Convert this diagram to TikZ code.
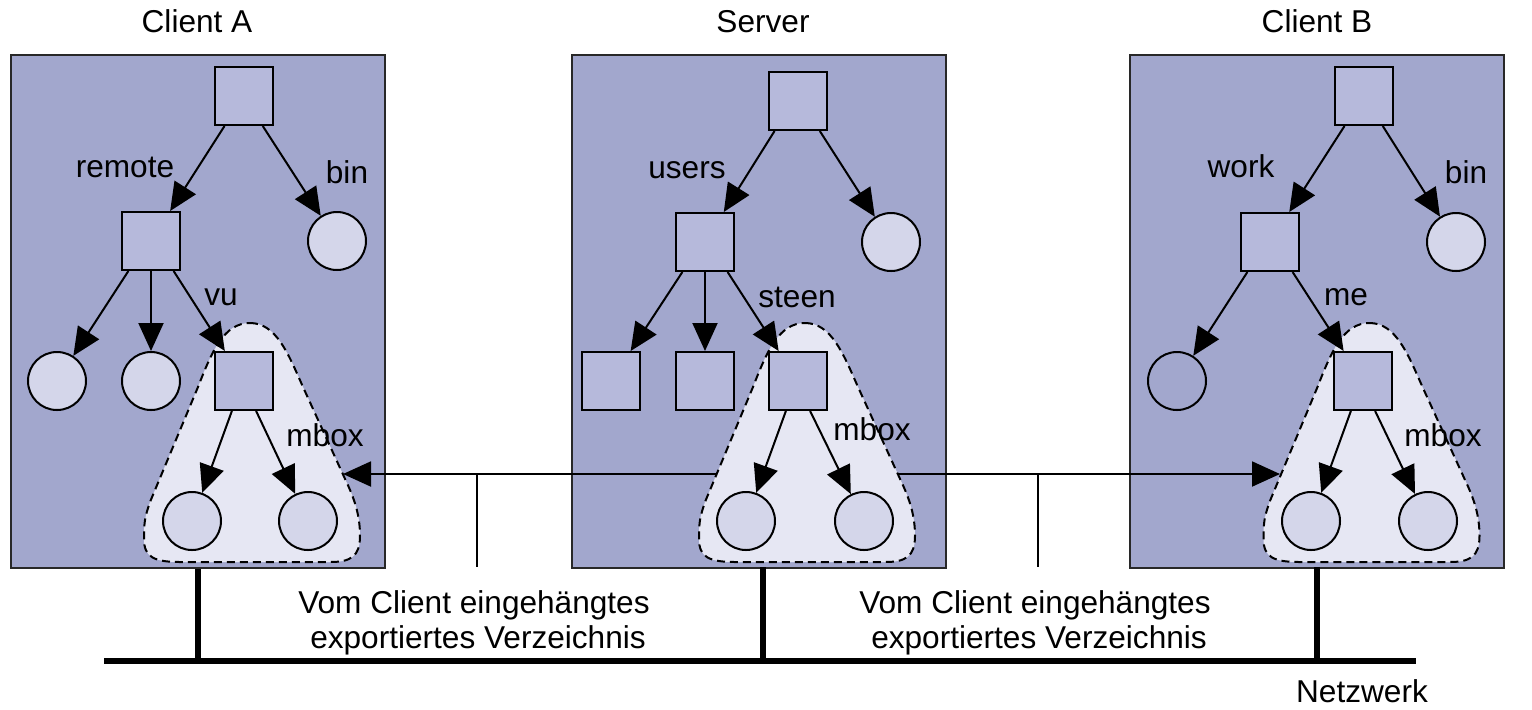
\documentclass[tikz,border=0pt]{standalone}
\usepackage{fontspec}
\setmainfont{Liberation Sans}
\usetikzlibrary{arrows.meta,calc}
\definecolor{panelc}{RGB}{162,167,205}
\definecolor{sqc}{RGB}{182,185,219}
\definecolor{cic}{RGB}{212,214,234}
\definecolor{blobc}{RGB}{230,231,243}
\definecolor{borderc}{RGB}{40,40,40}
\newcommand{\myblob}[2]{%
  \path[blob,shift={(#1,#2)}] (0,-58) .. controls (26,-58) and (38,-28) .. (53,6)
    -- (96,100) .. controls (105,119) and (110,135) .. (110,155)
    .. controls (110,176) and (100,181) .. (80,181)
    -- (-70,181) .. controls (-96,181) and (-106,176) .. (-106,158)
    .. controls (-106,140) and (-105,136) .. (-100,121)
    -- (-52,6) .. controls (-38,-30) and (-26,-58) .. (0,-58) -- cycle;}
\begin{document}
\begin{tikzpicture}[x=0.5pt,y=-0.5pt,
  font=\fontsize{15.8pt}{19pt}\selectfont,
  panel/.style={rectangle,draw=borderc,line width=1pt,fill=panelc,minimum width=187pt,minimum height=256.5pt,inner sep=0pt,anchor=north west},
  sq/.style={rectangle,draw=black,line width=1pt,fill=sqc,minimum size=29pt,inner sep=0pt},
  ci/.style={circle,draw=black,line width=1pt,fill=cic,minimum size=29pt,inner sep=0pt},
  cp/.style={circle,draw=black,line width=1pt,fill=panelc,minimum size=29pt,inner sep=0pt},
  blob/.style={draw=black,line width=1pt,dash pattern=on 4pt off 2.5pt,fill=blobc},
  arr/.style={line width=1pt,-{Triangle[length=14pt,width=12.5pt]}},
  thinl/.style={line width=0.8pt},
  net/.style={line width=3pt},
  lbl/.style={anchor=base,inner sep=0pt},
]
\useasboundingbox (0,0) rectangle (1532,709);
% panels
\node[panel] (pA) at (10,54) {};
\node[panel] (pS) at (571,54) {};
\node[panel] (pB) at (1129,54) {};
% titles
\node[lbl] (tA) at (197,32) {Client A};
\node[lbl] (tS) at (763,32) {Server};
\node[lbl] (tB) at (1317,32) {Client B};
% blobs
\myblob{250}{381}
\myblob{805}{381}
\myblob{1369.5}{381}
% Client A
\node[sq] (rA) at (244,96) {};
\node[sq] (remA) at (151,241) {};
\node[ci] (binA) at (337,241) {};
\node[ci] (a1) at (57,381) {};
\node[ci] (a2) at (151,381) {};
\node[sq] (vuA) at (244,381) {};
\node[ci] (a3) at (192,521) {};
\node[ci] (a4) at (308,521) {};
\draw[arr] (rA.237) -- (remA);
\draw[arr] (rA.302) -- (binA);
\draw[arr] (remA.233) -- (a1);
\draw[arr] (remA.270) -- (a2);
\draw[arr] (remA.307) -- (vuA);
\draw[arr] (vuA.248) -- (a3);
\draw[arr] (vuA.292) -- (a4);
\node[lbl] (lremote) at (125,177) {remote};
\node[lbl] (lbinA) at (347,183) {bin};
\node[lbl] (lvu) at (221,305) {vu};
\node[lbl] (lmboxA) at (325,446) {mbox};
% Server
\node[sq] (rS) at (798,101) {};
\node[sq] (usS) at (705,242) {};
\node[ci] (cS) at (891,242) {};
\node[sq] (s1) at (611,381) {};
\node[sq] (s2) at (705,381) {};
\node[sq] (stS) at (798,381) {};
\node[ci] (s3) at (746,521) {};
\node[ci] (s4) at (864,521) {};
\draw[arr] (rS.232) -- (usS);
\draw[arr] (rS.306) -- (cS);
\draw[arr] (usS.233) -- (s1);
\draw[arr] (usS.270) -- (s2);
\draw[arr] (usS.307) -- (stS);
\draw[arr] (stS.248) -- (s3);
\draw[arr] (stS.292) -- (s4);
\node[lbl] (lusers) at (687,178) {users};
\node[lbl] (lsteen) at (797,307) {steen};
\node[lbl] (lmboxS) at (872,440) {mbox};
% Client B
\node[sq] (rB) at (1364,96) {};
\node[sq] (wB) at (1270,242) {};
\node[ci] (binB) at (1456,242) {};
\node[cp] (b1) at (1177,381) {};
\node[sq] (meB) at (1363,381) {};
\node[ci] (b3) at (1311,521) {};
\node[ci] (b4) at (1428,521) {};
\draw[arr] (rB.237) -- (wB);
\draw[arr] (rB.302) -- (binB);
\draw[arr] (wB.233) -- (b1);
\draw[arr] (wB.307) -- (meB);
\draw[arr] (meB.248) -- (b3);
\draw[arr] (meB.292) -- (b4);
\node[lbl] (lwork) at (1241,177) {work};
\node[lbl] (lbinB) at (1466,183) {bin};
\node[lbl] (lme) at (1346,305) {me};
\node[lbl] (lmboxB) at (1443,446) {mbox};
% mount arrows
\coordinate (sL) at (716,474);
\coordinate (aR) at (343,474);
\coordinate (sR) at (897,474);
\coordinate (bL) at (1280,474);
\draw[arr] (sL) -- (aR);
\draw[arr] (sR) -- (bL);
\coordinate (j1) at (477,474);
\coordinate (j1b) at (477,567);
\coordinate (j2) at (1038,474);
\coordinate (j2b) at (1038,567);
\draw[thinl] (j1) -- (j1b);
\draw[thinl] (j2) -- (j2b);
\node[lbl] (m1a) at (474,613) {Vom Client eingehängtes};
\node[lbl] (m1b) at (478,648) {exportiertes Verzeichnis};
\node[lbl] (m2a) at (1035,613) {Vom Client eingehängtes};
\node[lbl] (m2b) at (1039,648) {exportiertes Verzeichnis};
% network
\coordinate (nL) at (104,661);
\coordinate (nR) at (1416,661);
\coordinate (dS) at (763,567);
\draw[net] (nL) -- (nR);
\draw[net] (pA.south) -- (pA.south |- nL);
\draw[net] (dS) -- (dS |- nL);
\draw[net] (1317,567) coordinate (dB) -- (dB |- nL);
\node[lbl] (lnet) at (1362,702) {Netzwerk};
\end{tikzpicture}
\end{document}
